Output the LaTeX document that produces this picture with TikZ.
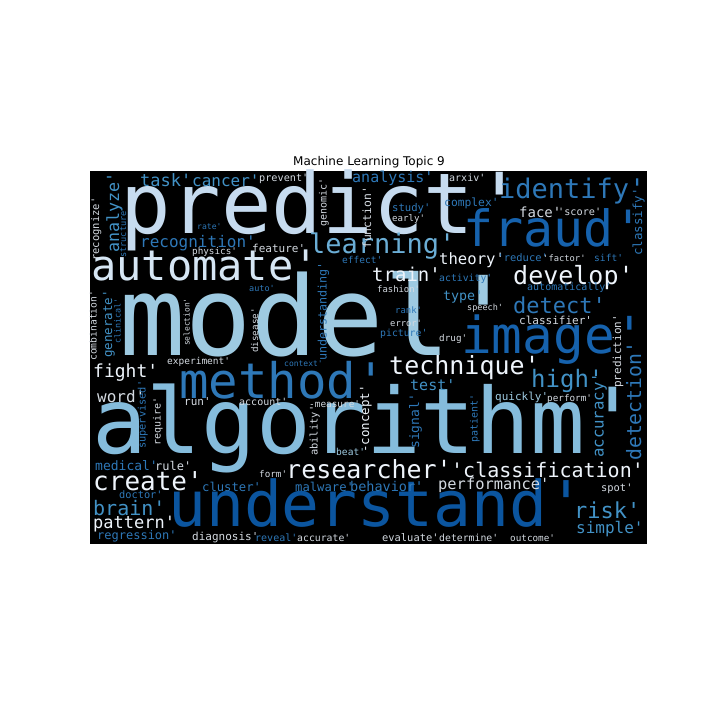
\documentclass[tikz,border=0pt]{standalone}
\usepackage{fontspec}
\setmainfont{DejaVu Sans}
\setmonofont{DejaVu Sans Mono}
\definecolor{wcwhite}{HTML}{EEF4FB}
\definecolor{wcsoft}{HTML}{D6E6F4}
\definecolor{wcgrey}{HTML}{D4DAE1}
\definecolor{wcpale}{HTML}{C6DBEF}
\definecolor{wclight}{HTML}{9ECAE1}
\definecolor{wcalgo}{HTML}{85BCDC}
\definecolor{wcsky}{HTML}{6BAED6}
\definecolor{wcmid}{HTML}{4292C6}
\definecolor{wcblue}{HTML}{2E78B8}
\definecolor{wcfraud}{HTML}{1662AD}
\definecolor{wcdark}{HTML}{0B559F}
\tikzset{
	word/.style={inner sep=0pt, anchor=base west},
	fs/.style={font=\ttfamily\fontsize{#1}{#1}\selectfont},
	vword/.style={word, rotate=90},
}
\begin{document}
\begin{tikzpicture}[x=1pt, y=-1pt]
		\useasboundingbox (0, 0) rectangle (720, 720);
		\fill [black] (90, 171) rectangle (647, 544);
		\node [font=\fontsize{12}{14}\selectfont, anchor=base] (0) at (369, 165.5) {Machine Learning Topic 9};

		\node [word, fs=84, text=wcpale] (1) at (120, 233) {predict'};
		\node [word, fs=110, text=wclight] (2) at (119, 355) {model'};
		\node [word, fs=91, text=wcalgo] (3) at (92, 453) {algorithm'};
		\node [word, fs=63, text=wcdark] (4) at (168, 526) {understand'};
		\node [word, fs=51, text=wcfraud] (5) at (461, 353) {image'};
		\node [word, fs=50, text=wcfraud] (6) at (463, 246) {fraud'};
		\node [word, fs=49, text=wcblue] (7) at (179, 398) {method'};
		\node [word, fs=42, text=wcsoft] (8) at (91, 280) {automate'};
		\node [word, fs=27, text=wcblue] (9) at (499, 198) {identify'};
		\node [word, fs=27, text=wcsky] (10) at (309, 253) {learning'};
		\node [word, fs=25, text=wcwhite] (11) at (513, 284) {develop'};
		\node [word, fs=25, text=wcwhite] (12) at (389, 374) {technique'};
		\node [word, fs=25, text=wcwhite] (13) at (286, 478) {researcher'};
		\node [word, fs=26, text=wcwhite] (14) at (93, 490) {create'};
		\node [word, fs=24, text=wcmid] (15) at (531, 387) {high'};
		\node [word, fs=22, text=wcblue] (16) at (513, 313) {detect'};
		\node [word, fs=22, text=wcmid] (17) at (574, 518) {risk'};
		\node [word, fs=20, text=wcwhite] (18) at (451, 477) {'classification'};
		\node [word, fs=19, text=wcwhite] (19) at (372, 281) {train'};
		\node [word, fs=20, text=wcmid] (20) at (93, 515) {brain'};
		\node [word, fs=18, text=wcwhite] (21) at (93, 377) {fight'};
		\node [word, fs=17, text=wcwhite] (22) at (93, 528) {pattern'};
		\node [word, fs=17, text=wcmid] (23) at (140, 186) {task'};
		\node [word, fs=16, text=wcmid] (24) at (192, 186) {cancer'};
		\node [word, fs=16, text=wcblue] (25) at (140, 247) {recognition'};
		\node [word, fs=16, text=wcgrey] (26) at (97, 402) {word'};
		\node [word, fs=16, text=wcmid] (27) at (576, 533) {simple'};
		\node [word, fs=15.6, text=wcwhite] (28) at (439, 264) {theory'};
		\node [word, fs=15.4, text=wcgrey] (29) at (438, 489) {performance'};
		\node [word, fs=15, text=wcblue] (30) at (352, 182) {analysis'};
		\node [word, fs=15, text=wcmid] (31) at (410, 390) {test'};
		\node [word, fs=14, text=wcgrey] (32) at (519, 217) {face'};
		\node [word, fs=13.5, text=wcblue] (33) at (350, 491) {behavior'};
		\node [word, fs=13.3, text=wcmid] (34) at (443, 300) {type'};
		\node [word, fs=13, text=wcblue] (35) at (95, 470) {medical'};
		\node [word, fs=12.2, text=wcblue] (36) at (295, 491) {malware'};
		\node [word, fs=12.2, text=wcblue] (37) at (202, 491) {cluster'};
		\node [word, fs=12, text=wcblue] (38) at (97, 539) {regression'};
		\node [word, fs=12, text=wcgrey] (39) at (155, 470) {rule'};
		\node [word, fs=11.3, text=wcblue] (40) at (444, 206) {complex'};
		\node [word, fs=11, text=wcgrey] (41) at (252, 252) {feature'};
		\node [word, fs=11, text=wclight] (42) at (495, 400) {quickly'};
		\node [word, fs=11, text=wcgrey] (43) at (184, 405) {run'};
		\node [word, fs=11, text=wcgrey] (44) at (192, 540) {diagnosis'};
		\node [word, fs=11, text=wcgrey] (45) at (519, 324) {classifier'};
		\node [word, fs=10.6, text=wcblue] (46) at (392, 211) {study'};
		\node [word, fs=10.4, text=wcblue] (47) at (497.5, 261) {'reduce'};
		\node [word, fs=10.4, text=wcgrey] (48) at (382, 541) {evaluate'};
		\node [word, fs=10.4, text=wcgrey] (49) at (601, 491) {spot'};
		\node [word, fs=10.3, text=wcblue] (50) at (119, 498) {doctor'};
		\node [word, fs=10.2, text=wcgrey] (51) at (558, 215) {'score'};
		\node [word, fs=10.2, text=wcgrey] (52) at (259, 181) {prevent'};
		\node [word, fs=10, text=wcgrey] (53) at (449, 181) {arxiv'};
		\node [word, fs=10, text=wcgrey] (54) at (239, 405) {account'};
		\node [word, fs=10, text=wcblue] (55) at (255, 541) {reveal'};
		\node [word, fs=10, text=wcblue] (56) at (527, 290) {automatically'};
		\node [word, fs=9.8, text=wcgrey] (57) at (297, 541) {accurate'};
		\node [word, fs=9.8, text=wcgrey] (58) at (439, 541) {determine'};
		\node [word, fs=9.8, text=wcblue] (59) at (439, 281) {activity'};
		\node [word, fs=9.8, text=wcblue] (60) at (380, 336) {picture'};
		\node [word, fs=9.6, text=wclight] (61) at (336, 455) {beat'};
		\node [word, fs=9.6, text=wcblue] (62) at (594, 261) {sift'};
		\node [word, fs=9.5, text=wcblue] (63) at (342, 263) {effect'};
		\node [word, fs=9.5, text=wcgrey] (64) at (167, 364) {experiment'};
		\node [word, fs=9.4, text=wcgrey] (65) at (309, 407) {-measure'};
		\node [word, fs=9.3, text=wcgrey] (66) at (510, 541) {outcome'};
		\node [word, fs=9.3, text=wcgrey] (67) at (439, 341) {drug'};
		\node [word, fs=9.3, text=wcgrey] (68) at (192, 254) {physics'};
		\node [word, fs=9.3, text=wcgrey] (69) at (259, 477) {form'};
		\node [word, fs=9.3, text=wcgrey] (70) at (547, 401) {perform'};
		\node [word, fs=9.1, text=wcgrey] (71) at (392, 221) {early'};
		\node [word, fs=8.9, text=wcgrey] (72) at (377, 292) {fashion'};
		\node [word, fs=8.9, text=wcblue] (73) at (395, 313) {rank'};
		\node [word, fs=8.8, text=wcgrey] (74) at (543, 261) {'factor'};
		\node [word, fs=8.8, text=wcgrey] (75) at (390, 326) {error'};
		\node [word, fs=8.5, text=wcgrey] (76) at (467, 310) {speech'};
		\node [word, fs=8.5, text=wcblue] (77) at (249, 291) {auto'};
		\node [word, fs=8.1, text=wcblue] (78) at (197, 229) {rate'};
		\node [word, fs=8, text=wcblue] (79) at (284, 366) {context'};

		\node [vword, fs=16.7, text=wcmid] (80) at (119, 253) {analyze'};
		\node [vword, fs=10.5, text=wcgrey] (81) at (99, 261) {recognize'};
		\node [vword, fs=8.6, text=wcblue] (82) at (126, 258) {structure'};
		\node [vword, fs=10, text=wcgrey] (83) at (326.5, 227) {genomic'};
		\node [vword, fs=11.4, text=wcgrey] (84) at (371, 249) {function'};
		\node [vword, fs=12.5, text=wcblue] (85) at (642, 256) {classify'};
		\node [vword, fs=11.7, text=wcblue] (86) at (326.5, 361) {understanding'};
		\node [vword, fs=9.7, text=wcgrey] (87) at (96.5, 361) {combination'};
		\node [vword, fs=12.5, text=wcmid] (88) at (112, 358) {generate'};
		\node [vword, fs=8.4, text=wcblue] (89) at (120.5, 344) {clinical'};
		\node [vword, fs=7.9, text=wcgrey] (90) at (189.5, 346) {selection'};
		\node [vword, fs=9.3, text=wcgrey] (91) at (258, 353) {disease'};
		\node [vword, fs=10.3, text=wcblue] (92) at (145.6, 449) {supervised'};
		\node [vword, fs=10, text=wcgrey] (93) at (160.5, 446) {require'};
		\node [vword, fs=10.4, text=wcgrey] (94) at (317.7, 456) {ability'};
		\node [vword, fs=12.5, text=wcwhite] (95) at (369, 453) {-concept'};
		\node [vword, fs=13, text=wcblue] (96) at (419, 449) {signal'};
		\node [vword, fs=10, text=wcblue] (97) at (477.5, 443) {patient'};
		\node [vword, fs=11, text=wcgrey] (98) at (621, 388) {prediction'};
		\node [vword, fs=19.8, text=wcblue] (99) at (641, 461) {detection'};
		\node [vword, fs=15.7, text=wcmid] (100) at (603.5, 458) {accuracy'};
\end{tikzpicture}
\end{document}
